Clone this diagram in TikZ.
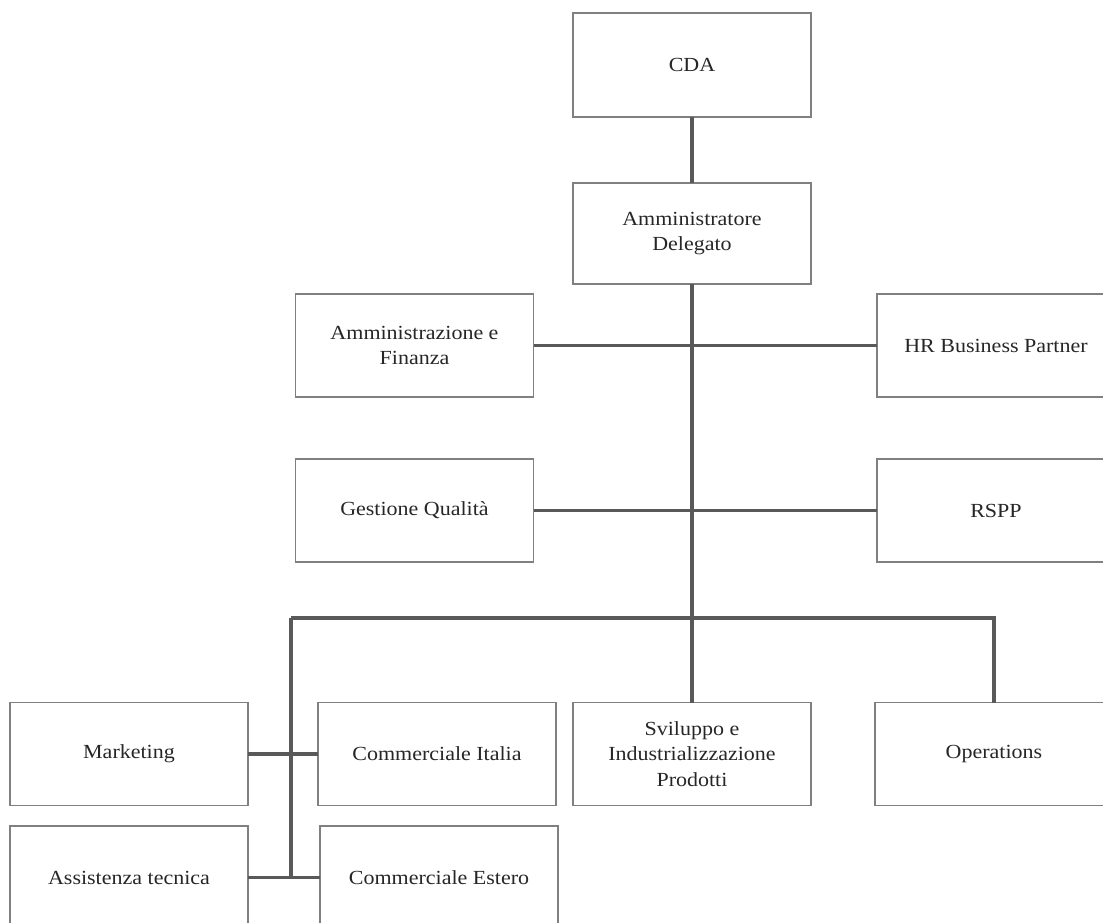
\documentclass[tikz,border=0pt]{standalone}
\usepackage{fontspec}
\setmainfont{Liberation Serif}[FakeStretch=1.1]
\definecolor{boxgray}{HTML}{808080}
\definecolor{conngray}{HTML}{595959}
\begin{document}
\begin{tikzpicture}[x=0.75pt,y=-0.75pt,
  box/.style={draw=boxgray, line width=1.1pt, rectangle, inner sep=0pt, outer sep=0pt,
    minimum width=178.5pt, minimum height=77.25pt, align=center,
    font=\fontsize{15pt}{19pt}\selectfont, text=black!85},
  conn/.style={draw=conngray, line width=2.3pt}]
\useasboundingbox (0,0) rectangle (1103,923);
\clip (0,0) rectangle (1103,923);
\node[box, minimum height=78pt] (cda) at (692,65) {CDA};
\node[box, minimum height=75.75pt] (ad) at (692,233.5) {Amministratore\\Delegato};
\node[box] (af) at (414.5,345.5) {Amministrazione e\\Finanza};
\node[box] (hr) at (996,345.5) {HR Business Partner};
\node[box] (gq) at (414.5,510.5) {Gestione Qualità};
\node[box] (rspp) at (996,510.5) {RSPP};
\node[box] (mkt) at (129,754) {Marketing};
\node[box] (ci) at (437,754) {Commerciale Italia};
\node[box] (sv) at (692,754) {Sviluppo e\\Industrializzazione\\Prodotti};
\node[box] (op) at (994,754) {Operations};
\node[box] (at) at (129,877.5) {Assistenza tecnica};
\node[box] (ce) at (439,877.5) {Commerciale Estero};
\coordinate (busL) at (291,618);
\coordinate (busR) at (994,618);
\coordinate (busB) at (291,877.5);
\draw[conn] (cda.south) -- (ad.north);
\draw[conn] (ad.south) -- (sv.north);
\draw[conn] (af.east) -- (hr.west);
\draw[conn] (gq.east) -- (rspp.west);
\draw[conn] (busL) -- (busR) -- (op.north);
\draw[conn] (busL) -- (busB);
\draw[conn] (mkt.east) -- (ci.west);
\draw[conn] (at.east) -- (ce.west);
\end{tikzpicture}
\end{document}
